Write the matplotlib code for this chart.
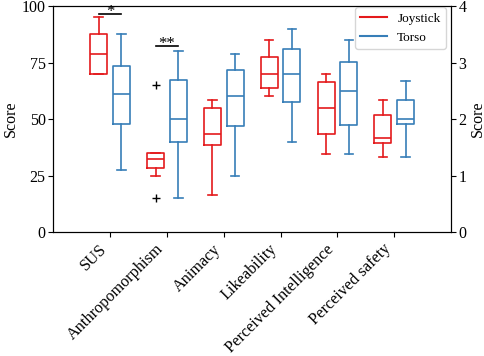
import matplotlib
matplotlib.use('Agg')
import matplotlib.pyplot as plt

plt.rcParams['font.family'] = ['Liberation Serif', 'DejaVu Serif']

categories = ['SUS', 'Anthropomorphism', 'Animacy', 'Likeability',
              'Perceived Intelligence', 'Perceived safety']

# box stats per category: (whislo, q1, med, q3, whishi)
joystick = [(70, 70, 78.8, 87.5, 95),
            (24.7, 28.5, 32.5, 34.8, 34.8),
            (0.66, 1.54, 1.74, 2.2, 2.34),
            (2.40, 2.55, 2.80, 3.10, 3.40),
            (1.39, 1.74, 2.20, 2.65, 2.80),
            (1.33, 1.57, 1.67, 2.08, 2.34)]
torso = [(27.3, 48, 61, 73.7, 87.5),
         (15, 40, 50, 67.4, 80),
         (0.99, 1.87, 2.41, 2.87, 3.16),
         (1.60, 2.30, 2.80, 3.24, 3.60),
         (1.39, 1.90, 2.50, 3.01, 3.40),
         (1.33, 1.91, 2.00, 2.34, 2.67)]
joystick_fliers = [[], [65, 15], [], [], [], []]
torso_fliers = [[], [], [], [], [], []]

# first two categories use the 0-100 scale, the rest the 0-4 scale
left_scale = [True, True, False, False, False, False]

red = '#e41a1c'
blue = '#377eb8'


def make_stats(vals, fliers):
    lo, q1, med, q3, hi = vals
    return dict(whislo=lo, q1=q1, med=med, q3=q3, whishi=hi, fliers=fliers)


def draw(ax, stats, pos, color):
    ax.bxp(stats, positions=pos, widths=0.3, showfliers=True,
           boxprops=dict(color=color, linewidth=1.2),
           medianprops=dict(color=color, linewidth=1.2),
           whiskerprops=dict(color=color, linewidth=1.2),
           capprops=dict(color=color, linewidth=1.2),
           flierprops=dict(marker='+', markeredgecolor='black', markersize=6))


fig, ax = plt.subplots(figsize=(4.84, 3.56), dpi=100)
fig.subplots_adjust(left=0.11, right=0.932, bottom=0.348, top=0.983)
ax2 = ax.twinx()

for i in range(len(categories)):
    target = ax if left_scale[i] else ax2
    draw(target, [make_stats(joystick[i], joystick_fliers[i])], [i + 1 - 0.2], red)
    draw(target, [make_stats(torso[i], torso_fliers[i])], [i + 1 + 0.2], blue)

# significance markers
ax.plot([0.8, 1.2], [96.5, 96.5], color='black', lw=1.2)
ax.text(1.0, 95.6, '*', ha='center', va='baseline', fontsize=12)
ax.plot([1.8, 2.2], [82.3, 82.3], color='black', lw=1.2)
ax.text(2.0, 81.4, '**', ha='center', va='baseline', fontsize=12)

ax.set_xlim(0, 7)
ax.set_ylim(0, 100)
ax2.set_ylim(0, 4)
ax.set_yticks([0, 25, 50, 75, 100])
ax2.set_yticks([0, 1, 2, 3, 4])
ax.set_xticks(range(1, len(categories) + 1))
ax.set_xticklabels(categories, rotation=45, ha='right', fontsize=11.7)
ax.tick_params(axis='x', pad=3)
ax.tick_params(axis='y', labelsize=11.5, pad=2)
ax2.tick_params(axis='y', labelsize=11.5, pad=2)
ax.set_ylabel('Score', fontsize=11.5, labelpad=2)
ax2.set_ylabel('Score', fontsize=11.5, labelpad=2)

ax.plot([], [], color=red, label='Joystick')
ax.plot([], [], color=blue, label='Torso')
ax.legend(loc='upper right', fontsize=9.5, bbox_to_anchor=(0.99, 1.0), borderaxespad=0.1)

fig.savefig('out.png', dpi=100)
